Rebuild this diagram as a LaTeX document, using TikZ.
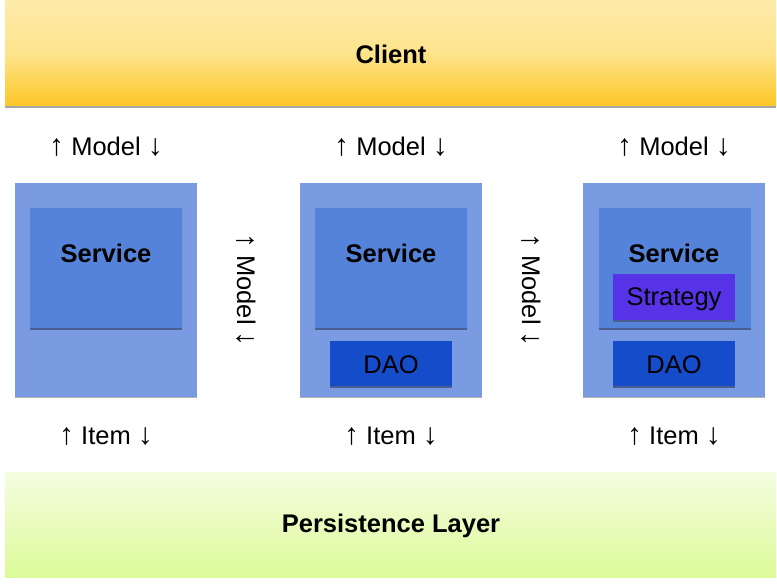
\documentclass[tikz,border=0pt]{standalone}
\usepackage{fontspec}
\setmainfont{Liberation Sans}
\definecolor{outerC}{HTML}{7A9BE1}
\definecolor{servC}{HTML}{5683DA}
\definecolor{daoC}{HTML}{154CC9}
\definecolor{stratC}{HTML}{5633E6}
\definecolor{shadowC}{HTML}{4A5F8F}
\newcommand{\upa}{{\fontsize{30}{30}\selectfont ↑}}
\newcommand{\dna}{{\fontsize{30}{30}\selectfont ↓}}
\begin{document}
\begin{tikzpicture}[x=1pt,y=-1pt,
  box/.style={rectangle,inner sep=0pt,outer sep=0pt},
  outerbox/.style={box,fill=outerC,minimum width=182pt,minimum height=214pt},
  servbox/.style={box,fill=servC,minimum width=152pt,minimum height=121pt},
  daobox/.style={box,fill=daoC,minimum width=122pt,minimum height=46pt},
  stratbox/.style={box,fill=stratC,minimum width=122pt,minimum height=47pt},
  lbl/.style={inner sep=0pt,font=\fontsize{25.5}{28}\selectfont},
  blbl/.style={inner sep=0pt,font=\fontsize{25.5}{28}\selectfont\bfseries},
  shadowline/.style={draw=shadowC,line width=1.2pt}
]
\useasboundingbox (0,0) rectangle (777,584);
\fill[white] (0,0) rectangle (777,584);
% Client band
\shade[top color={rgb,255:red,254;green,234;blue,170}, bottom color={rgb,255:red,252;green,198;blue,38}, middle color={rgb,255:red,253;green,228;blue,140}] (5,0) rectangle (776,106);
\draw[gray!70,line width=1.5pt] (5,107) -- (776,107);
\node[blbl] (client) at (391,54) {Client};
% Persistence band
\shade[top color={rgb,255:red,245;green,252;blue,225}, bottom color={rgb,255:red,220;green,251;blue,152}] (5,472) rectangle (776,577);
\node[blbl] (persist) at (391,526) {Persistence Layer};
% columns
\node[outerbox] (o1) at (106,290) {};
\node[outerbox] (o2) at (391,290) {};
\node[outerbox] (o3) at (674,290) {};
\draw[gray!60,line width=1pt] (o1.south west) -- (o1.south east);
\draw[gray!60,line width=1pt] (o2.south west) -- (o2.south east);
\draw[gray!60,line width=1pt] (o3.south west) -- (o3.south east);
\node[servbox] (s1) at (106,268.5) {};
\node[servbox] (s2) at (391,268.5) {};
\node[servbox] (s3) at (674.5,268.5) {};
\draw[shadowline] (s1.south west) -- (s1.south east);
\draw[shadowline] (s2.south west) -- (s2.south east);
\draw[shadowline] (s3.south west) -- (s3.south east);
\node[blbl] (st1) at (106,253) {Service};
\node[blbl] (st2) at (391,253) {Service};
\node[blbl] (st3) at (674,253) {Service};
\node[stratbox] (strat) at (674,297.5) {};
\draw[shadowline] (strat.south west) -- (strat.south east);
\node[lbl] (strattext) at (674,299) {Strategy};
\node[daobox] (dao2) at (391,364) {};
\node[daobox] (dao3) at (674,364) {};
\draw[shadowline] (dao2.south west) -- (dao2.south east);
\draw[shadowline] (dao3.south west) -- (dao3.south east);
\node[lbl] (dao2text) at (391,365) {DAO};
\node[lbl] (dao3text) at (674,365) {DAO};
% labels
\node[lbl] (m1) at (106,147) {\upa\ Model \dna};
\node[lbl] (m2) at (391,147) {\upa\ Model \dna};
\node[lbl] (m3) at (674,147) {\upa\ Model \dna};
\node[lbl] (i1) at (106,436) {\upa\ Item \dna};
\node[lbl] (i2) at (391,436) {\upa\ Item \dna};
\node[lbl] (i3) at (674,436) {\upa\ Item \dna};
\node[lbl,rotate=-90] (r1) at (246,290) {\upa\ Model \dna};
\node[lbl,rotate=-90] (r2) at (531,290) {\upa\ Model \dna};
\end{tikzpicture}
\end{document}
